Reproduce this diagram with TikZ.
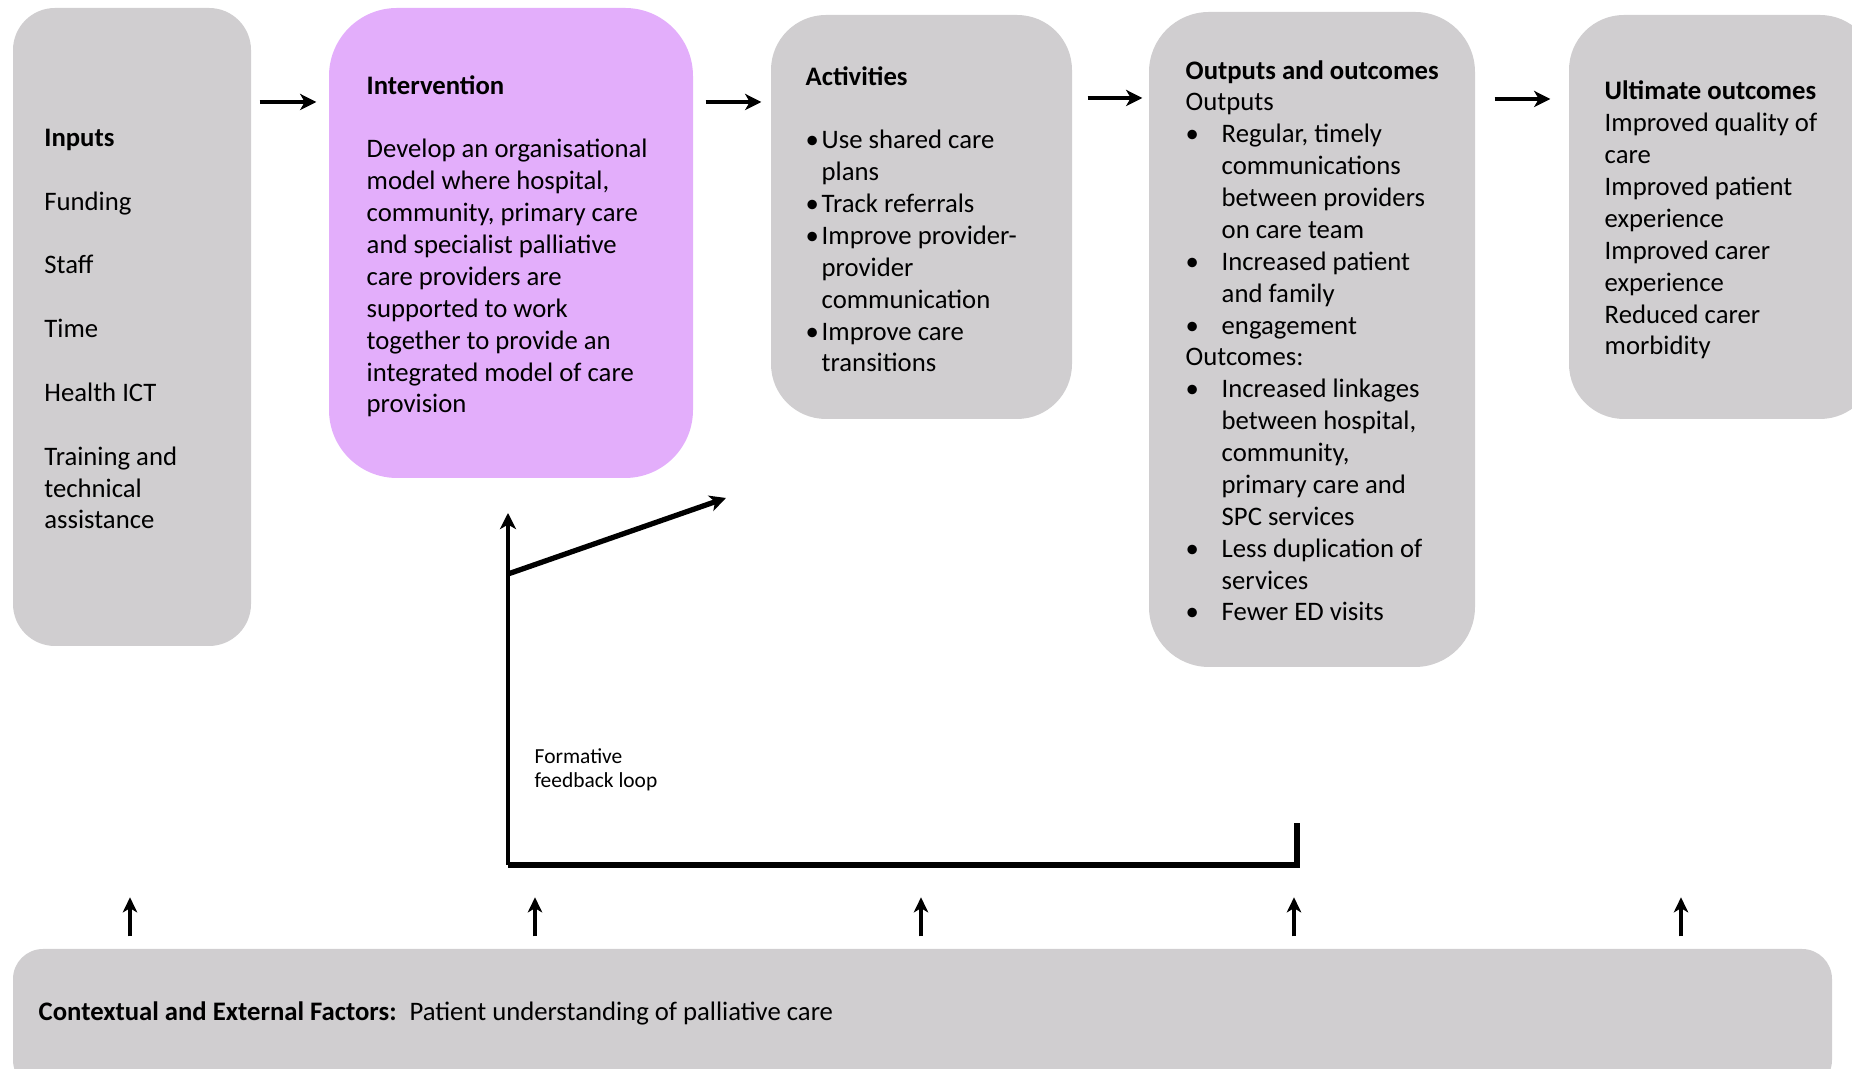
\documentclass[tikz,border=0pt]{standalone}
\usepackage{fontspec}
\setmainfont{Carlito}
\usetikzlibrary{arrows.meta,calc}
\definecolor{boxgrey}{RGB}{208,206,208}
\definecolor{boxviolet}{RGB}{227,174,251}
\newcommand{\actbul}{\makebox[0.16cm][l]{\textbullet}}
\newcommand{\actind}{\hspace*{0.16cm}}
\newcommand{\outbul}{\makebox[0.36cm][l]{\textbullet}}
\newcommand{\outind}{\hspace*{0.36cm}}
\newcommand{\skipline}{\\[9.07pt]}

\begin{document}
\begin{tikzpicture}[
  stage/.style={fill=boxgrey,rounded corners=#1,inner sep=0pt},
  stage/.default=0.45cm,
  boxtext/.style={anchor=base west,align=left,inner sep=0pt,font=\fontsize{7.6}{9.07}\selectfont},
  flow/.style={line width=1.4pt,-{Stealth[length=4.6pt,width=4.6pt,inset=1.3pt]}},
  loopline/.style={line width=1.3pt},
  uparrow/.style={line width=1.3pt,-{Stealth[length=4.3pt,width=4.1pt,inset=1.2pt]}}
]
\useasboundingbox (0,0) rectangle (18.52,-10.69);
% Stages
\node[stage=0.42cm,minimum width=2.38cm,minimum height=6.38cm] (inputs) at (1.32,-3.27) {};
\node[stage=0.68cm,fill=boxviolet,minimum width=3.64cm,minimum height=4.70cm] (interv) at (5.11,-2.43) {};
\node[stage=0.55cm,minimum width=3.01cm,minimum height=4.04cm] (activ) at (9.215,-2.17) {};
\node[stage=0.60cm,minimum width=3.26cm,minimum height=6.55cm] (outp) at (13.12,-3.395) {};
\node[stage=0.55cm,minimum width=3.06cm,minimum height=4.04cm] (ultim) at (17.22,-2.17) {};
\node[stage=0.30cm,minimum width=18.19cm,minimum height=1.41cm] (ctx) at (9.225,-10.195) {};
% Texts (placed at the baseline of their last line)
\node[boxtext] (inputstxt) at (0.437,-5.29) {\textbf{Inputs}\skipline Funding\skipline Staff\skipline Time\skipline Health ICT\skipline Training and\\ technical\\ assistance};
\node[boxtext] (intervtxt) at (3.66,-4.13) {\textbf{Intervention}\skipline Develop an organisational\\ model where hospital,\\ community, primary care\\ and specialist palliative\\ care providers are\\ supported to work\\ together to provide an\\ integrated model of care\\ provision};
\node[boxtext] (activtxt) at (8.05,-3.72) {\textbf{Activities}\skipline \actbul Use shared care\\ \actind plans\\ \actbul Track referrals\\ \actbul Improve provider-\\ \actind provider\\ \actind communication\\ \actbul Improve care\\ \actind transitions};
\node[boxtext] (outptxt) at (11.85,-6.21) {\textbf{Outputs and outcomes}\\ Outputs\\ \outbul Regular, timely\\ \outind communications\\ \outind between providers\\ \outind on care team\\ \outbul Increased patient\\ \outind and family\\ \outbul engagement\\ Outcomes:\\ \outbul Increased linkages\\ \outind between hospital,\\ \outind community,\\ \outind primary care and\\ \outind SPC services\\ \outbul Less duplication of\\ \outind services\\ \outbul Fewer ED visits};
\node[boxtext] (ultimtxt) at (16.04,-3.55) {\textbf{Ultimate outcomes}\\ Improved quality of\\ care\\ Improved patient\\ experience\\ Improved carer\\ experience\\ Reduced carer\\ morbidity};
\node[boxtext] (ctxtxt) at (0.38,-10.21) {\textbf{Contextual and External Factors:}\hspace*{0.13cm}Patient understanding of palliative care};
% Flow between stages
\draw[flow,shorten <=0.08cm,shorten >=0.12cm] (inputs.east |- 0,-1.02) -- (interv.west |- 0,-1.02);
\draw[flow,shorten <=0.12cm,shorten >=0.09cm] (interv.east |- 0,-1.02) -- (activ.west |- 0,-1.02);
\draw[flow,shorten <=0.15cm,shorten >=0.06cm] (activ.east |- 0,-0.98) -- (outp.west |- 0,-0.98);
\draw[flow,shorten <=0.19cm,shorten >=0.18cm] (outp.east |- 0,-0.99) -- (ultim.west |- 0,-0.99);
% Feedback loop
\coordinate (loopup) at (5.08,-5.13);
\coordinate (loopfork) at (5.08,-5.74);
\coordinate (loopact) at (7.26,-4.98);
\coordinate (loopleft) at (5.08,-8.65);
\coordinate (loopright) at (12.97,-8.65);
\coordinate (loopend) at (12.97,-8.23);
\draw[flow,line width=1.3pt] (loopleft) -- (loopup);
\draw[flow,line width=1.5pt] (loopfork) -- (loopact);
\draw[loopline,line width=1.6pt] (loopleft) -- (loopright) -- (loopend);
\node[anchor=base west,align=left,inner sep=0pt,font=\fontsize{6.1}{7.05}\selectfont] (looplbl) at (5.34,-7.88) {Formative\\ feedback loop};
% Context factors
\foreach \x in {1.30,5.35,9.21,12.94,16.81}
  \draw[uparrow] ([yshift=0.12cm]ctx.north -| \x,0) -- ++(0,0.39);
\end{tikzpicture}
\end{document}
